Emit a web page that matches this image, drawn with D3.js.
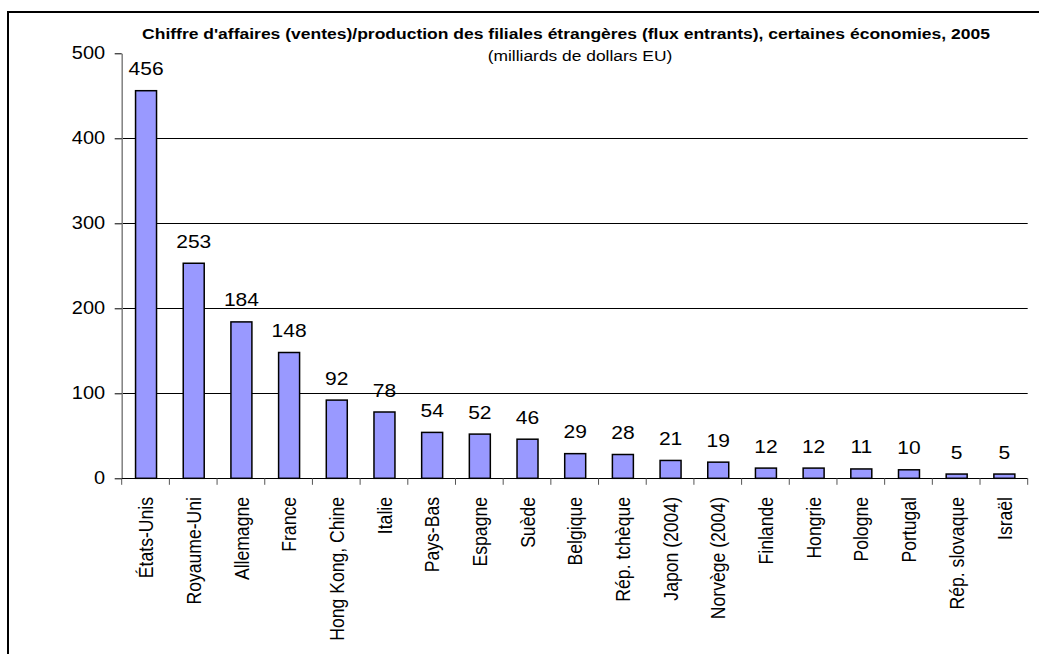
<!DOCTYPE html>
<html>
<head>
<meta charset="utf-8">
<script src="https://cdn.jsdelivr.net/npm/d3@7"></script>
<style>
  html, body { margin: 0; padding: 0; background: #fff; }
  svg { display: block; }
  text { font-family: "Liberation Sans", Arial, sans-serif; fill: #000; }
</style>
</head>
<body>
<svg id="chart" width="1039" height="654"></svg>
<script>
const categories = ["États-Unis", "Royaume-Uni", "Allemagne", "France", "Hong Kong, Chine", "Italie",
  "Pays-Bas", "Espagne", "Suède", "Belgique", "Rép. tchèque", "Japon (2004)", "Norvège (2004)",
  "Finlande", "Hongrie", "Pologne", "Portugal", "Rép. slovaque", "Israël"];
const values = [456, 253, 184, 148, 92, 78, 54, 52, 46, 29, 28, 21, 19, 12, 12, 11, 10, 5, 5];
const yTicks = [0, 100, 200, 300, 400, 500];
const gridTicks = [100, 200, 300, 400];
const titleText = "Chiffre d'affaires (ventes)/production des filiales étrangères (flux entrants), certaines économies, 2005";
const subtitleText = "(milliards de dollars EU)";

// the reference is slightly stretched horizontally
const sx = 1.13;

const svg = d3.select("#chart");

// outer frame (cropped at right/bottom in the reference)
svg.append("rect")
  .attr("x", 8).attr("y", 12)
  .attr("width", 1040).attr("height", 700)
  .attr("fill", "none").attr("stroke", "#000").attr("stroke-width", 2);

const x0 = 121.7, x1 = 1027.7, yBase = 478.3, yTop = 53.3;
const x = d3.scaleBand().domain(categories).range([x0, x1]).padding(0);
const y = d3.scaleLinear().domain([0, 500]).range([yBase, yTop]);

// gridlines
svg.append("g").selectAll("line").data(gridTicks).join("line")
  .attr("x1", x0).attr("x2", x1)
  .attr("y1", d => Math.round(y(d)) + 0.5).attr("y2", d => Math.round(y(d)) + 0.5)
  .attr("stroke", "#000").attr("stroke-width", 1);

// y axis
const yAxis = d3.axisLeft(y).tickValues(yTicks).tickSize(7).tickPadding(9).tickSizeOuter(0);
const gy = svg.append("g").attr("transform", `translate(${x0},0)`).call(yAxis);
gy.select(".domain").attr("stroke", "#808080").attr("stroke-width", 1.5);
gy.selectAll(".tick line").attr("stroke", "#000");
gy.selectAll(".tick text")
  .attr("x", -16.5 / sx)
  .attr("transform", `scale(${sx},1)`)
  .style("font-size", "17.7px")
  .style("font-family", "'Liberation Sans', Arial, sans-serif");

// x axis baseline and category ticks
svg.append("line").attr("x1", x0).attr("x2", x1)
  .attr("y1", Math.round(yBase) + 0.5).attr("y2", Math.round(yBase) + 0.5)
  .attr("stroke", "#000").attr("stroke-width", 1.2);
const boundaries = categories.map(c => x(c)).concat([x1]);
svg.append("g").selectAll("line").data(boundaries).join("line")
  .attr("x1", d => d).attr("x2", d => d)
  .attr("y1", yBase).attr("y2", yBase + 6.5)
  .attr("stroke", "#555").attr("stroke-width", 1);

// bars
const barW = x.bandwidth() * 0.44;
svg.append("g").selectAll("rect").data(values).join("rect")
  .attr("x", (d, i) => x(categories[i]) + x.bandwidth() / 2 - barW / 2 + 0.5)
  .attr("y", d => y(d))
  .attr("width", barW)
  .attr("height", d => yBase - y(d))
  .attr("fill", "#9999FF")
  .attr("stroke", "#000").attr("stroke-width", 1.5);

// value labels
svg.append("g").selectAll("text").data(values).join("text")
  .attr("transform", (d, i) => `translate(${x(categories[i]) + x.bandwidth() / 2 + 0.5},${y(d) - 15.5}) scale(${sx},1)`)
  .attr("text-anchor", "middle")
  .style("font-size", "18.6px")
  .text(d => d);

// category labels (rotated)
svg.append("g").selectAll("text").data(categories).join("text")
  .attr("transform", d => `translate(${x(d) + x.bandwidth() / 2 + 0.5},497) scale(${sx},1) rotate(-90)`)
  .attr("text-anchor", "end")
  .attr("dy", "0.36em")
  .style("font-size", "17.6px")
  .text(d => d);

// titles
svg.append("text")
  .attr("transform", `translate(566,39) scale(${sx},1)`)
  .attr("text-anchor", "middle")
  .style("font-size", "15.5px").style("font-weight", "bold")
  .text(titleText);
svg.append("text")
  .attr("transform", `translate(580,61) scale(${sx},1)`)
  .attr("text-anchor", "middle")
  .style("font-size", "15.4px")
  .text(subtitleText);
</script>
</body>
</html>
